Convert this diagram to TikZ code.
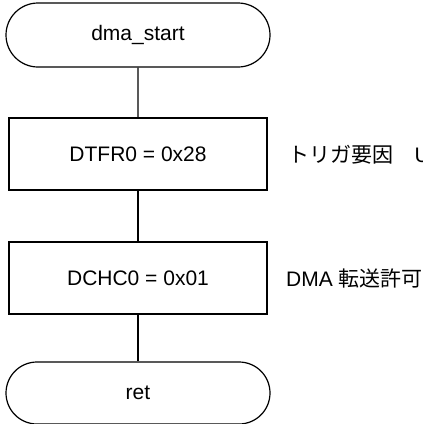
\documentclass[tikz,border=0pt]{standalone}
\usepackage{fontspec}
\setmainfont{Liberation Sans}
\newfontfamily\cjk{Noto Sans CJK JP}
\usetikzlibrary{shapes.misc}
\begin{document}
\begin{tikzpicture}[x=1pt,y=-1pt, line width=1.2pt,
  lbl/.style={font=\fontsize{21}{25}\selectfont},
  term/.style={draw, rounded rectangle, minimum width=264pt, minimum height=64pt, inner sep=0pt, lbl},
  proc/.style={draw, rectangle, minimum width=258pt, minimum height=72pt, inner sep=0pt, lbl},
  note/.style={anchor=west, inner sep=0pt, lbl}]
\useasboundingbox (0,0) rectangle (423,424);
\clip (0,0) rectangle (423,424);
\node[term] (start) at (138,35) {dma\_start};
\node[proc] (p1) at (138,154) {DTFR0 = 0x28};
\node[proc] (p2) at (138,278) {DCHC0 = 0x01};
\node[term, minimum height=62pt] (ret) at (138,393) {ret};
\draw (start) -- (p1);
\draw (p1) -- (p2);
\draw (p2) -- (ret);
\node[note] (n1) at (288,155) {{\cjk トリガ要因　}U};
\node[note] (n2) at (285.5,278) {DMA {\cjk 転送許可}};
\end{tikzpicture}
\end{document}
